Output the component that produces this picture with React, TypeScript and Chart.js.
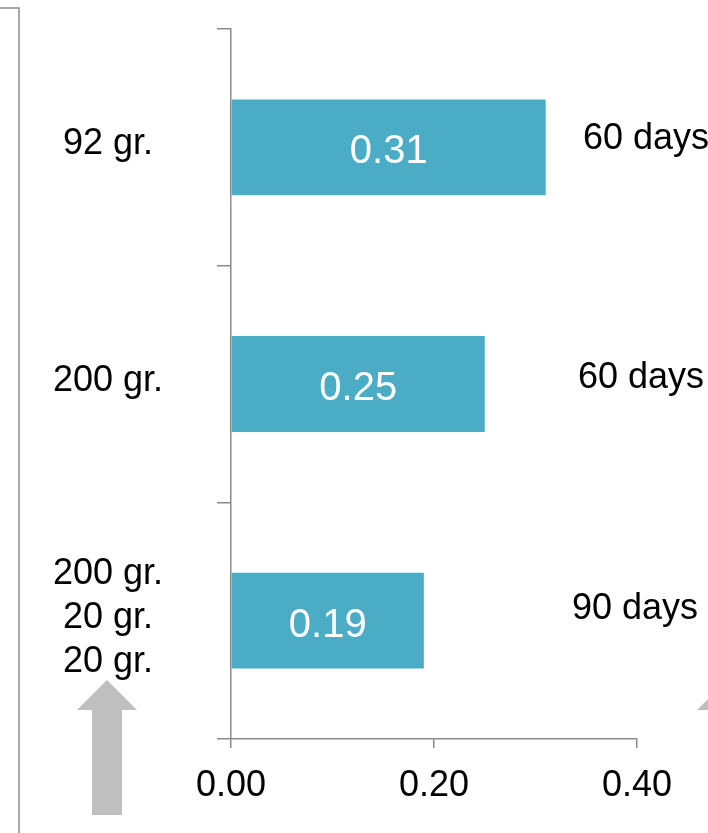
import React, { useEffect, useRef } from "react";
import { Chart, registerables } from "chart.js";

Chart.register(...registerables);

// Portion sizes per row (multi-line labels are arrays)
const categories: string[][] = [["92 gr."], ["200 gr."], ["200 gr.", "20 gr.", "20 gr."]];
// Value shown on each bar
const values: number[] = [0.31, 0.25, 0.19];
// Duration noted to the right of each bar
const durations: string[] = ["60 days", "60 days", "90 days"];
// Value axis ticks
const xTicks: number[] = [0, 0.2, 0.4];

const FONT = "'Liberation Sans', Arial, Helvetica, sans-serif";
const AXIS_GREY = "#8a8a8a";
const BAR_COLOR = "#4BACC6";
const ARROW_GREY = "#bfbfbf";

// Placement of the duration notes, relative to the plot's right edge and row centre
const durationOffsets = [
  { dx: -54, dy: -8 },
  { dx: -59, dy: -6 },
  { dx: -65, dy: -12 },
];

function drawUpArrow(ctx: CanvasRenderingContext2D, cx: number, tipY: number, bottomY: number) {
  const headHalf = 30;
  const headH = 30;
  const shaftHalf = 15;
  ctx.beginPath();
  ctx.moveTo(cx, tipY);
  ctx.lineTo(cx + headHalf, tipY + headH);
  ctx.lineTo(cx + shaftHalf, tipY + headH);
  ctx.lineTo(cx + shaftHalf, bottomY);
  ctx.lineTo(cx - shaftHalf, bottomY);
  ctx.lineTo(cx - shaftHalf, tipY + headH);
  ctx.lineTo(cx - headHalf, tipY + headH);
  ctx.closePath();
  ctx.fill();
}

const decorPlugin = {
  id: "decor",
  afterDraw(chart: any) {
    const { ctx, chartArea } = chart;
    const yScale = chart.scales.y;
    ctx.save();

    // frame of the neighbouring panel
    ctx.strokeStyle = AXIS_GREY;
    ctx.lineWidth = 1.5;
    ctx.beginPath();
    ctx.moveTo(0, 8);
    ctx.lineTo(19, 8);
    ctx.lineTo(19, chart.height);
    ctx.stroke();

    // grey arrows
    ctx.fillStyle = ARROW_GREY;
    drawUpArrow(ctx, 107, 680, 815);
    drawUpArrow(ctx, 727, 680, 815);

    // value labels inside bars
    const meta = chart.getDatasetMeta(0);
    ctx.fillStyle = "#ffffff";
    ctx.font = `40px ${FONT}`;
    ctx.textAlign = "center";
    ctx.textBaseline = "middle";
    meta.data.forEach((bar: any, i: number) => {
      const cx = (bar.x + bar.base) / 2;
      ctx.fillText(values[i].toFixed(2), cx, bar.y + 5);
    });

    // duration notes
    ctx.fillStyle = "#000000";
    ctx.font = `36px ${FONT}`;
    ctx.textAlign = "left";
    durations.forEach((txt, i) => {
      const y = yScale.getPixelForValue(i) + durationOffsets[i].dy;
      ctx.fillText(txt, chartArea.right + durationOffsets[i].dx, y);
    });

    ctx.restore();
  },
};

export default function App() {
  const canvasRef = useRef<HTMLCanvasElement | null>(null);

  useEffect(() => {
    if (!canvasRef.current) return;
    const chart = new Chart(canvasRef.current, {
      type: "bar",
      data: {
        labels: categories,
        datasets: [
          {
            data: values,
            backgroundColor: BAR_COLOR,
            borderWidth: 0,
            barPercentage: 0.405,
            categoryPercentage: 1,
          },
        ],
      },
      options: {
        indexAxis: "y",
        animation: false,
        responsive: false,
        devicePixelRatio: 1,
        layout: { padding: { top: 29, right: 71, left: 0, bottom: 0 } },
        plugins: {
          legend: { display: false },
          tooltip: { enabled: false },
        },
        scales: {
          x: {
            min: 0,
            max: 0.4,
            afterBuildTicks: (scale: any) => {
              scale.ticks = xTicks.map((v) => ({ value: v }));
            },
            ticks: {
              callback: (v: any) => Number(v).toFixed(2),
              font: { family: FONT, size: 36 },
              color: "#000000",
              padding: 16,
              maxRotation: 0,
              autoSkip: false,
            },
            grid: {
              drawOnChartArea: false,
              drawTicks: true,
              tickLength: 9,
              color: AXIS_GREY,
              lineWidth: 1.5,
            },
            border: { color: AXIS_GREY, width: 1.5 },
            afterFit: (scale: any) => {
              scale.height = 94;
              scale.paddingLeft = 0;
              scale.paddingRight = 0;
            },
          },
          y: {
            ticks: {
              font: { family: FONT, size: 36, lineHeight: 1.22 },
              color: "#000000",
              padding: 54,
              crossAlign: "center",
              labelOffset: -3,
            },
            grid: {
              drawOnChartArea: false,
              drawTicks: true,
              tickLength: 14,
              offset: true,
              color: AXIS_GREY,
              lineWidth: 1.5,
            },
            border: { color: AXIS_GREY, width: 1.5 },
            afterFit: (scale: any) => {
              scale.width = 231;
              scale.paddingTop = 0;
              scale.paddingBottom = 0;
            },
          },
        },
      } as any,
      plugins: [decorPlugin],
    });
    return () => chart.destroy();
  }, []);

  return (
    <div style={{ position: "absolute", left: 0, top: 0, width: 708, height: 833, background: "#ffffff" }}>
      <canvas ref={canvasRef} width={708} height={833} />
    </div>
  );
}
